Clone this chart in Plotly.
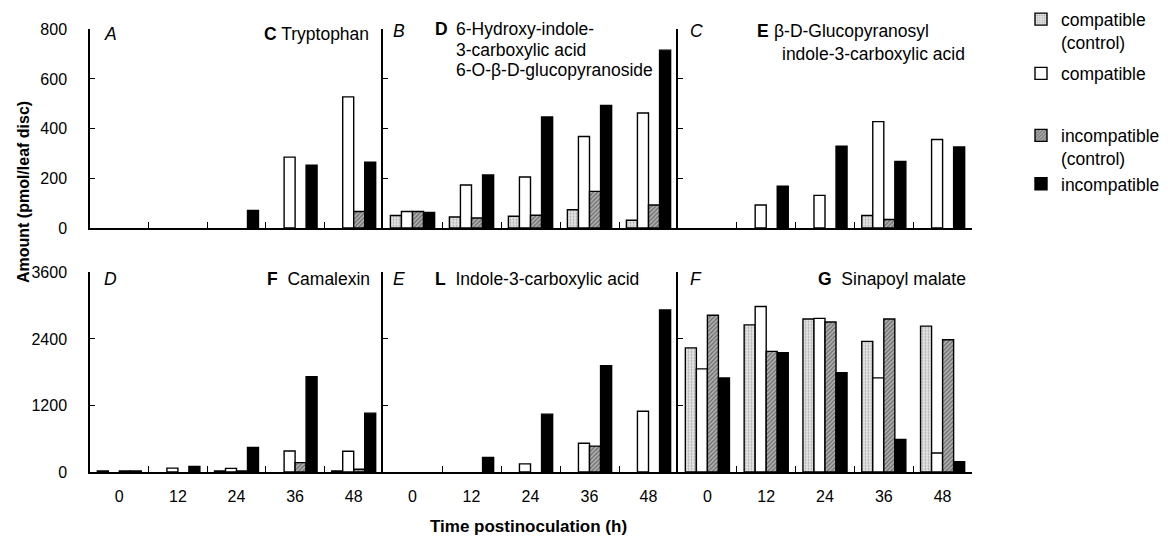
import plotly.graph_objects as go

W, H = 1168, 543

times = [0, 12, 24, 36, 48]
tick_labels = ["0", "12", "24", "36", "48"]
series_names = ["compatible<br>(control)", "compatible", "incompatible<br>(control)", "incompatible"]

# Top row (pmol/leaf disc); None = no bar drawn
trp_cc = [None, None, None, None, None]
trp_c = [None, None, None, 285, 528]
trp_ic = [None, None, None, None, 66]
trp_i = [None, None, 70, 253, 265]

hic_cc = [50, 44, 47, 73, 31]
hic_c = [66, 173, 205, 368, 463]
hic_ic = [66, 40, 51, 147, 92]
hic_i = [62, 213, 447, 493, 716]

gic_cc = [None, None, None, 50, None]
gic_c = [None, 92, 131, 428, 356]
gic_ic = [None, None, None, 34, None]
gic_i = [None, 168, 329, 268, 326]

# Bottom row
cam_cc = [20, None, 20, None, 20]
cam_c = [None, 70, 65, 379, 373]
cam_ic = [20, None, 20, 170, 50]
cam_i = [20, 100, 443, 1720, 1062]

ind_cc = [None, None, None, None, None]
ind_c = [None, None, 146, 519, 1097]
ind_ic = [None, None, None, 467, None]
ind_i = [None, 262, 1044, 1919, 2922]

sin_cc = [2240, 2654, 2759, 2356, 2631]
sin_c = [1861, 2987, 2771, 1698, 344]
sin_ic = [2829, 2176, 2706, 2759, 2386]
sin_i = [1698, 2153, 1791, 589, 187]

top_ticks = [0, 200, 400, 600, 800]
bottom_ticks = [0, 1200, 2400, 3600]

panels = [
    [trp_cc, trp_c, trp_ic, trp_i],
    [hic_cc, hic_c, hic_ic, hic_i],
    [gic_cc, gic_c, gic_ic, gic_i],
    [cam_cc, cam_c, cam_ic, cam_i],
    [ind_cc, ind_c, ind_ic, ind_i],
    [sin_cc, sin_c, sin_ic, sin_i],
]

FONT = "Liberation Sans, Arial, sans-serif"

styles = [
    dict(color="#e6e6e6", pattern=dict(shape=".", fgcolor="#6e6e6e", bgcolor="#e6e6e6", size=3, solidity=0.3)),
    dict(color="white"),
    dict(color="#b0b0b0", pattern=dict(shape="/", fgcolor="#222222", bgcolor="#b0b0b0", size=3, solidity=0.4)),
    dict(color="black"),
]
legends = ["legend", "legend2", "legend3", "legend4"]

fig = go.Figure()
for p, vals in enumerate(panels):
    ax = "" if p == 0 else str(p + 1)
    for s in range(4):
        mk = dict(styles[s])
        mk["line"] = dict(color="black", width=1.4)
        fig.add_trace(go.Bar(
            x=times, y=vals[s], name=series_names[s], marker=mk,
            xaxis="x" + ax, yaxis="y" + ax,
            legend=legends[s], legendgroup=str(s), showlegend=(p == 0),
        ))

def px_x(v):
    return v / W

def px_y(v):
    return 1 - v / H

xdoms = [[px_x(90), px_x(383)], [px_x(383), px_x(678)], [px_x(678), px_x(972)]]
ydom_top = [px_y(227), px_y(22)]
ydom_bot = [px_y(479), px_y(273)]

layout = dict(
    width=W, height=H, margin=dict(l=0, r=0, t=0, b=0),
    paper_bgcolor="white", plot_bgcolor="white",
    barmode="group", bargap=0.25, bargroupgap=0,
    font=dict(family=FONT, size=16, color="black"),
)

for p in range(6):
    ax = "" if p == 0 else str(p + 1)
    col = p % 3
    top = p < 3
    layout["xaxis" + ax] = dict(
        domain=xdoms[col], anchor="y" + ax, range=[-6, 54],
        tickvals=times, ticktext=tick_labels, ticks="", showticklabels=not top,
        ticklabelstandoff=9,
        showline=True, linecolor="black", linewidth=1.5, showgrid=False, zeroline=False,
        minor=dict(tickvals=[6, 18, 30, 42], ticks="inside", ticklen=6, tickcolor="black", tickwidth=1.3, showgrid=False),
        tickfont=dict(size=16),
    )
    layout["yaxis" + ax] = dict(
        domain=ydom_top if top else ydom_bot, anchor="x" + ax,
        range=[0, 800] if top else [0, 3600],
        tickvals=top_ticks if top else bottom_ticks,
        ticks="inside", ticklen=5, tickcolor="black", tickwidth=1.3,
        showticklabels=(col == 0), ticklabelstandoff=18,
        showline=True, linecolor="black", linewidth=1.5, showgrid=False, zeroline=False,
        tickfont=dict(size=16),
    )

leg_x = px_x(1021)
leg_ys = [-7, 49, 113, 163]
for i, lg in enumerate(legends):
    layout[lg] = dict(x=leg_x, y=px_y(leg_ys[i]), xanchor="left", yanchor="top",
                      bgcolor="rgba(0,0,0,0)", borderwidth=0, valign="top",
                      font=dict(size=17.5, family=FONT), tracegroupgap=0)

fig.update_layout(**layout)

LAB = 17.5

def ann(text, x, y, anchor="left", size=LAB):
    fig.add_annotation(text=text, x=px_x(x), y=px_y(y), xref="paper", yref="paper",
                       xanchor=anchor, yanchor="middle", showarrow=False,
                       font=dict(size=size, family=FONT, color="black"))

# panel letters and titles
ann("<i>A</i>", 102, 27)
ann("<b>C</b> Tryptophan", 371, 27, anchor="right")
ann("<i>B</i>", 391, 24)
ann("<b>D</b>", 433, 22)
ann("6-Hydroxy-indole-", 454, 22)
ann("3-carboxylic acid", 454, 43)
ann("6-O-β-D-glucopyranoside", 454, 64)
ann("<i>C</i>", 688, 24)
ann("<b>E</b>", 755, 24)
ann("β-D-Glucopyranosyl", 772, 24)
ann("indole-3-carboxylic acid", 780, 47)

ann("<i>D</i>", 102, 280)
ann("<b>F</b>  Camalexin", 372, 280, anchor="right")
ann("<i>E</i>", 391, 280)
ann("<b>L</b>  Indole-3-carboxylic acid", 433, 280)
ann("<i>F</i>", 688, 280)
ann("<b>G</b>  Sinapoyl malate", 968, 280, anchor="right")

# axis titles
fig.add_annotation(text="<b>Amount (pmol/leaf disc)</b>", x=px_x(23), y=px_y(190), xref="paper", yref="paper",
                   textangle=-90, showarrow=False, xanchor="center", yanchor="middle",
                   font=dict(size=16, family=FONT, color="black"))
fig.add_annotation(text="<b>Time postinoculation (h)</b>", x=px_x(528), y=px_y(535), xref="paper", yref="paper",
                   showarrow=False, xanchor="center", yanchor="middle",
                   font=dict(size=17, family=FONT, color="black"))

fig.write_html("out.html")
